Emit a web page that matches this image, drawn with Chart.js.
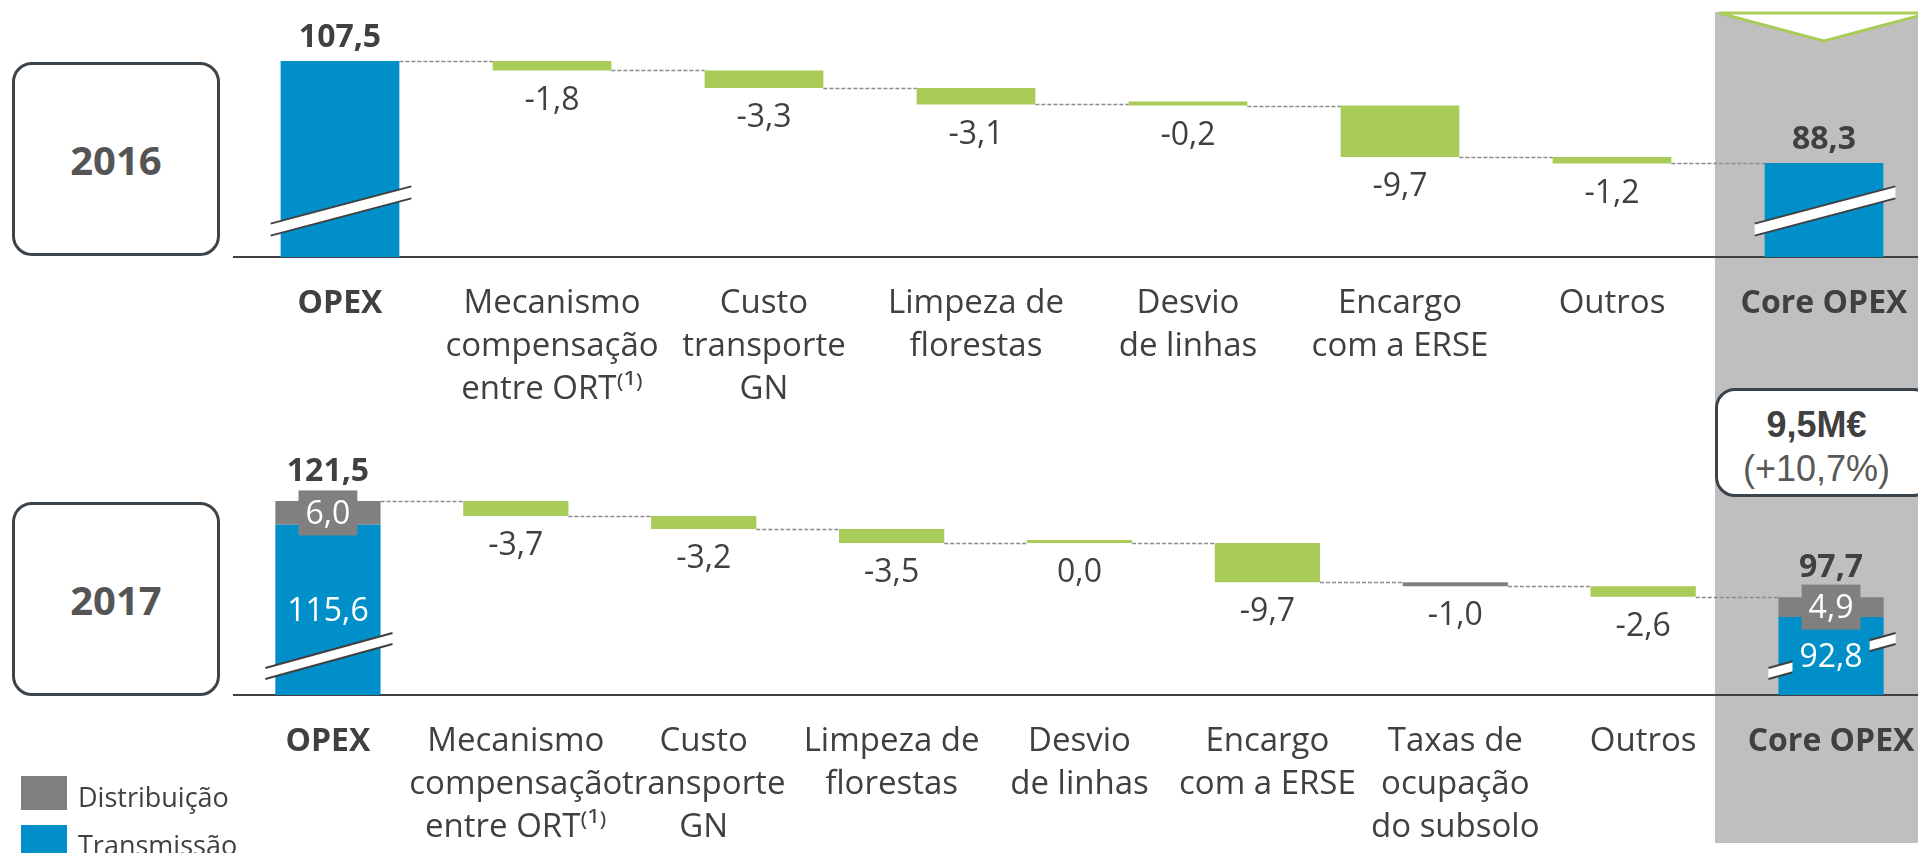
<!DOCTYPE html>
<html>
<head>
<meta charset="utf-8">
<script src="https://cdn.jsdelivr.net/npm/chart.js@4.4.0/dist/chart.umd.min.js"></script>
<style>
  html, body { margin: 0; padding: 0; overflow: hidden; background: #fff; }
  #wrap { position: relative; width: 1918px; height: 853px; overflow: hidden; font-family: 'Open Sans', sans-serif; color: #404040; }
  #band { position: absolute; left: 1715px; top: 12px; width: 203px; height: 831px; background: #bfbfbf; }
  #tri { position: absolute; left: 0; top: 0; }
  canvas { position: absolute; left: 0; }
  .year { position: absolute; left: 12px; width: 208px; height: 194px; box-sizing: border-box;
          border: 3px solid #3b444b; border-radius: 20px; font-weight: bold; font-size: 40px; color: #555;
          display: flex; align-items: center; justify-content: center; }
  #summary { position: absolute; left: 1715px; top: 388px; width: 218px; height: 109px; box-sizing: border-box;
             background: #fff; border: 3px solid #3b444b; border-radius: 20px; font-family: 'Liberation Sans', Arial, sans-serif;
             text-align: center; padding-right: 15px; }
  #summary .big { font-weight: bold; font-size: 36px; color: #404040; line-height: 44px; margin-top: 12px; }
  #summary .pct { font-size: 36px; color: #595959; line-height: 44px; }
  .sw { position: absolute; left: 21px; width: 46px; height: 34px; }
  .lg { position: absolute; left: 78px; font-size: 27px; line-height: 34px; color: #404040; }
</style>
</head>
<body>
<div id="wrap">
  <div id="band"></div>
  <svg id="tri" width="1918" height="60"><polygon points="1719,13 1929,13 1824,41" fill="#fff" stroke="#a9cb57" stroke-width="3"/></svg>
  <div class="year" style="top:62px">2016</div>
  <div class="year" style="top:502px">2017</div>
  <canvas id="c2016" width="1940" height="420" style="top:0;width:1940px;height:420px"></canvas>
  <canvas id="c2017" width="1940" height="433" style="top:420px;width:1940px;height:433px"></canvas>
  <div id="summary"><div class="big">9,5M€</div><div class="pct">(+10,7%)</div></div>
  <div class="sw" style="top:776px;background:#808080"></div><div class="lg" style="top:780px">Distribuição</div>
  <div class="sw" style="top:825px;background:#008fc9"></div><div class="lg" style="top:828px">Transmissão</div>
</div>
<script>
// 2016 values
const categories2016 = ["OPEX", ["Mecanismo", "compensação", "entre ORT⁽¹⁾"], ["Custo", "transporte", "GN"],
  ["Limpeza de", "florestas"], ["Desvio", "de linhas"], ["Encargo", "com a ERSE"], "Outros", "Core OPEX"];
const opex2016 = 107.5;
const changes2016 = [-1.8, -3.3, -3.1, -0.2, -9.7, -1.2];
const core2016 = 88.3;

// 2017 values
const categories2017 = ["OPEX", ["Mecanismo", "compensação", "entre ORT⁽¹⁾"], ["Custo", "transporte", "GN"],
  ["Limpeza de", "florestas"], ["Desvio", "de linhas"], ["Encargo", "com a ERSE"],
  ["Taxas de", "ocupação", "do subsolo"], "Outros", "Core OPEX"];
const opexTransmissao2017 = 115.6;
const opexDistribuicao2017 = 6.0;
const opex2017 = 121.5;
const changes2017 = [-3.7, -3.2, -3.5, 0.0, -9.7, -1.0, -2.6];
// which series each change belongs to: "v" = variação (green), "d" = distribuição (grey)
const changeSeries2017 = ["v", "v", "v", "v", "v", "d", "v"];
const coreTransmissao2017 = 92.8;
const coreDistribuicao2017 = 4.9;
const core2017 = 97.7;

// broken value axes (the bars do not start at zero)
const yAxis2016 = { min: 70.6, max: 116.7 };
const yAxis2017 = { min: 73.5, max: 136.6 };

const BLUE = "#008fc9", GREEN = "#a9cb57", GREY = "#808080", TEXT = "#404040";
const FONT = "'Open Sans', sans-serif";

function fmt(v) {
  return v.toFixed(1).replace(".", ",");
}

// running totals of the waterfall
function runWaterfall(start, changes) {
  let cur = start;
  const bars = [], levels = [start];
  changes.forEach(c => {
    const next = Math.round((cur + c) * 10) / 10;
    bars.push([cur, next]);
    cur = next;
    levels.push(cur);
  });
  return { bars, levels };
}

function drawBreak(ctx, left, right, yc, slope, gap) {
  const cx = (left + right) / 2;
  const yl = yc + (cx - left) * slope, yr = yc - (right - cx) * slope;
  ctx.save();
  ctx.setLineDash([]);
  ctx.fillStyle = "#fff";
  ctx.beginPath();
  ctx.moveTo(left, yl - gap / 2);
  ctx.lineTo(right, yr - gap / 2);
  ctx.lineTo(right, yr + gap / 2);
  ctx.lineTo(left, yl + gap / 2);
  ctx.closePath();
  ctx.fill();
  ctx.strokeStyle = "#404040";
  ctx.lineWidth = 2;
  ctx.beginPath();
  ctx.moveTo(left, yl - gap / 2); ctx.lineTo(right, yr - gap / 2);
  ctx.moveTo(left, yl + gap / 2); ctx.lineTo(right, yr + gap / 2);
  ctx.stroke();
  ctx.restore();
}

function drawLabel(ctx, text, x, y, bold, color, bg) {
  ctx.font = (bold ? "bold " : "") + "32px " + FONT;
  ctx.textAlign = "center";
  ctx.textBaseline = "middle";
  if (bg) {
    const w = ctx.measureText(text).width + 14;
    ctx.fillStyle = bg;
    ctx.fillRect(x - w / 2, y - 22.5, w, 45);
  }
  ctx.fillStyle = color;
  ctx.fillText(text, x, y + 2);
}

// connectors, axis breaks and value labels
const waterfallDecor = {
  id: "wf",
  afterDatasetsDraw(chart, args, o) {
    const { ctx, chartArea } = chart;
    const yScale = chart.scales.y;
    const n = chart.data.labels.length;
    const bounds = i => {
      let b = null;
      chart.data.datasets.forEach((ds, d) => {
        if (ds.data[i] == null) return;
        const el = chart.getDatasetMeta(d).data[i];
        const top = Math.min(el.y, el.base), bottom = Math.min(Math.max(el.y, el.base), chartArea.bottom);
        if (!b) b = { left: el.x - el.width / 2, right: el.x + el.width / 2, top, bottom, x: el.x };
        else { b.top = Math.min(b.top, top); b.bottom = Math.max(b.bottom, bottom); }
      });
      return b;
    };
    ctx.save();
    ctx.strokeStyle = "#8c8c8c";
    ctx.lineWidth = 1.5;
    ctx.setLineDash([4, 2]);
    for (let i = 0; i < n - 1; i++) {
      const a = bounds(i), b = bounds(i + 1);
      const py = Math.round(yScale.getPixelForValue(o.levels[i])) + 0.5;
      ctx.beginPath();
      ctx.moveTo(a.right, py);
      ctx.lineTo(b.left, py);
      ctx.stroke();
    }
    [0, n - 1].forEach(i => {
      const b = bounds(i);
      drawBreak(ctx, b.left - 10, b.right + 12, chartArea.bottom - o.breakLift, o.breakSlope, o.breakGap);
    });
    chart.data.datasets.forEach((ds, d) => {
      const meta = chart.getDatasetMeta(d);
      ds.data.forEach((v, i) => {
        if (v == null) return;
        const el = meta.data[i];
        const top = Math.min(el.y, el.base), bottom = Math.min(Math.max(el.y, el.base), chartArea.bottom);
        if (ds.role === "change") {
          drawLabel(ctx, fmt(ds.rawValues[i]), el.x, bottom + o.belowOffset, false, TEXT);
        } else if (ds.role === "segment") {
          drawLabel(ctx, fmt(ds.rawValues[i]), el.x, (top + bottom) / 2, false, "#fff", ds.backgroundColor);
        }
      });
    });
    [0, n - 1].forEach((i, k) => {
      const b = bounds(i);
      drawLabel(ctx, fmt(o.totals[k]), b.x, b.top - o.totalOffset, true, TEXT);
    });
    ctx.restore();
  }
};

function makeChart(id, labels, datasets, axis, xHeight, padTop, decor) {
  const n = labels.length;
  return new Chart(document.getElementById(id), {
    type: "bar",
    data: { labels, datasets },
    plugins: [waterfallDecor],
    options: {
      responsive: false,
      animation: false,
      devicePixelRatio: 1,
      layout: { padding: { left: 234, right: 10, top: padTop, bottom: 0 } },
      datasets: { bar: { categoryPercentage: 1, barPercentage: 0.56, grouped: false, borderWidth: 0 } },
      plugins: { legend: { display: false }, tooltip: { enabled: false }, wf: decor },
      scales: {
        x: {
          offset: true,
          grid: { display: false, drawTicks: false },
          border: { display: true, color: "#404040", width: 2 },
          ticks: {
            autoSkip: false, maxRotation: 0, minRotation: 0, padding: 25, color: TEXT,
            font: c => {
              const bold = c.index === 0 || c.index === n - 1;
              return { family: FONT, size: bold ? 32 : 33, lineHeight: "43px", weight: bold ? "bold" : "normal" };
            }
          },
          afterFit: s => { s.height = xHeight; }
        },
        y: { display: false, min: axis.min, max: axis.max }
      }
    }
  });
}

// 2016 chart
const wf2016 = runWaterfall(opex2016, changes2016);
const nulls2016 = changes2016.map(() => null);
makeChart("c2016", categories2016, [
  { label: "Transmissão", role: "total", backgroundColor: BLUE,
    data: [[yAxis2016.min, opex2016], ...nulls2016, [yAxis2016.min, core2016]] },
  { label: "Variação", role: "change", backgroundColor: GREEN, minBarLength: 4,
    data: [null, ...wf2016.bars, null], rawValues: [null, ...changes2016, null] }
], yAxis2016, 163, 12, {
  levels: wf2016.levels, totals: [opex2016, core2016],
  totalOffset: 25, belowOffset: 28, breakLift: 46, breakSlope: 0.265, breakGap: 12
});

// 2017 chart
const wf2017 = runWaterfall(opex2017, changes2017);
const nulls2017 = changes2017.map(() => null);
makeChart("c2017", categories2017, [
  { label: "Transmissão", role: "segment", backgroundColor: BLUE,
    data: [[yAxis2017.min, opexTransmissao2017], ...nulls2017, [yAxis2017.min, coreTransmissao2017]],
    rawValues: [opexTransmissao2017, ...nulls2017, coreTransmissao2017] },
  { label: "Distribuição", role: "segment", backgroundColor: GREY,
    data: [[opexTransmissao2017, opex2017], ...nulls2017, [coreTransmissao2017, core2017]],
    rawValues: [opexDistribuicao2017, ...nulls2017, coreDistribuicao2017] },
  { label: "Variação", role: "change", minBarLength: 3,
    backgroundColor: [GREEN, ...changeSeries2017.map(s => s === "d" ? GREY : GREEN), GREEN],
    data: [null, ...wf2017.bars, null], rawValues: [null, ...changes2017, null] }
], yAxis2017, 158, 20, {
  levels: wf2017.levels, totals: [opex2017, core2017],
  totalOffset: 31, belowOffset: 28, breakLift: 39, breakSlope: 0.275, breakGap: 11
});
</script>
</body>
</html>
